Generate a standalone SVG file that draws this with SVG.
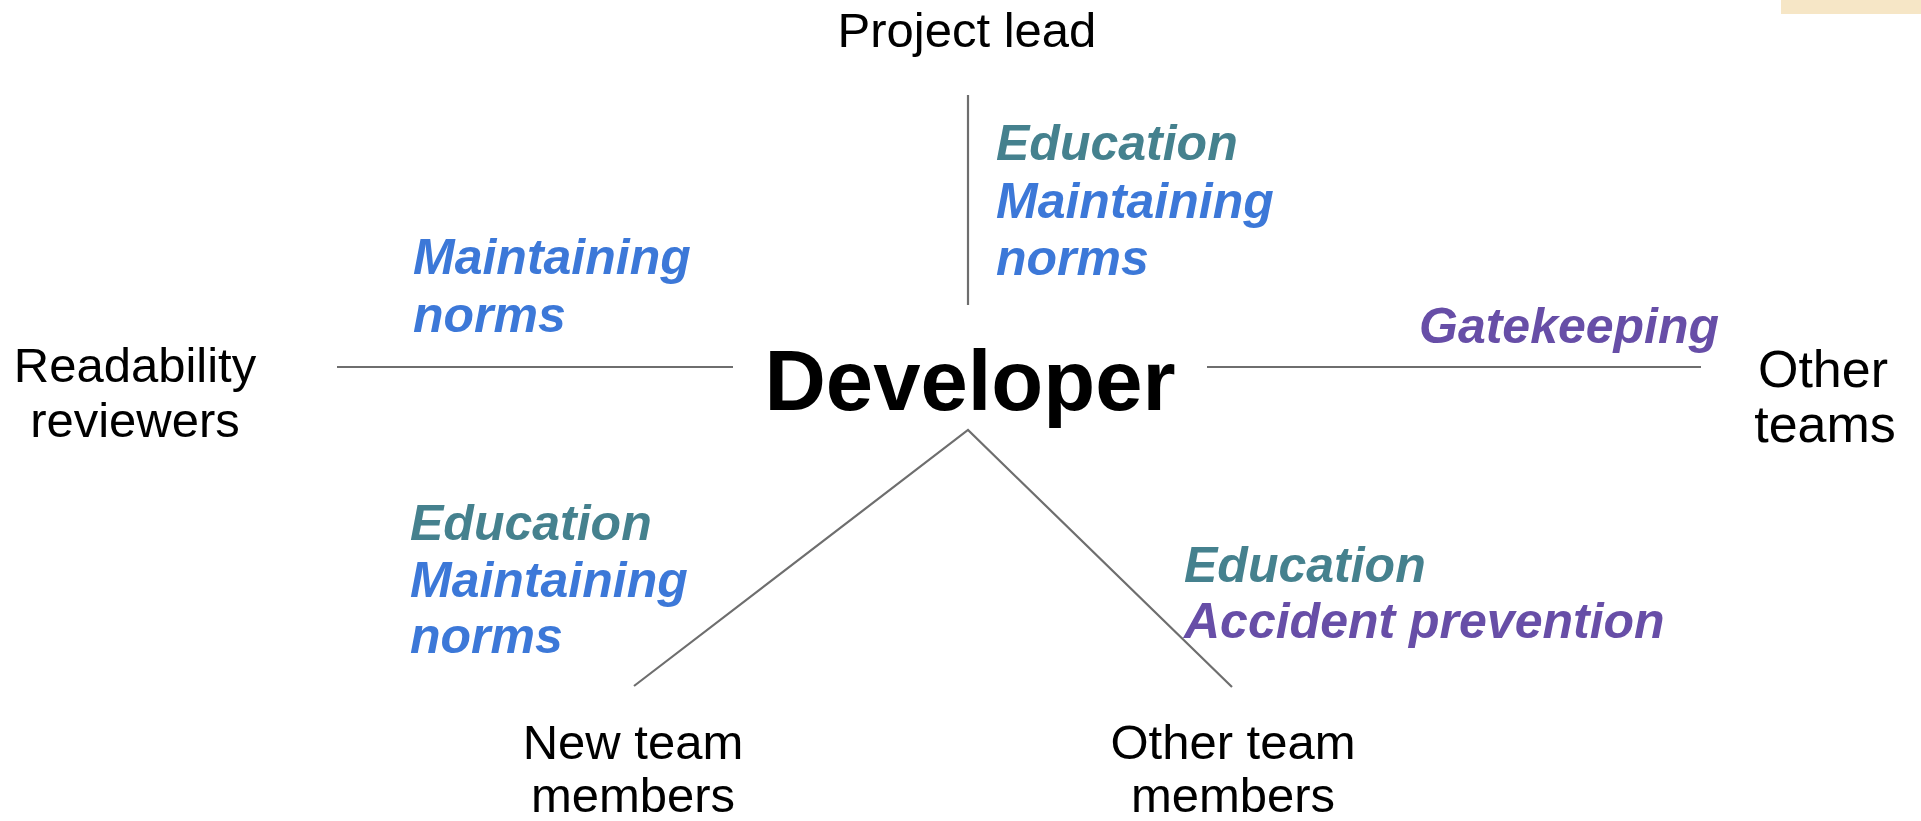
<svg xmlns="http://www.w3.org/2000/svg" width="1921" height="821" viewBox="0 0 1921 821">
<style>
  .node { font-family: "Liberation Sans", Arial, sans-serif; font-size: 49px; fill: #000; text-anchor: middle; }
  .center { font-family: "Liberation Sans", Arial, sans-serif; font-size: 85px; font-weight: bold; fill: #000; text-anchor: middle; }
  .lbl { font-family: "Liberation Sans", Arial, sans-serif; font-size: 50px; font-weight: bold; font-style: italic; }
  .edu { fill: #45818e; }
  .norm { fill: #3c78d8; }
  .gate { fill: #674ea7; }
  .conn { stroke: #6e6e6e; stroke-width: 2.2; fill: none; }
</style>
<rect x="0" y="0" width="1921" height="821" fill="#ffffff"/>
<rect x="1781" y="0" width="140" height="14" fill="#f6e6c6"/>

<g id="connectors">
  <line class="conn" x1="968" y1="95" x2="968" y2="305"/>
  <line class="conn" x1="337" y1="367" x2="733" y2="367"/>
  <line class="conn" x1="1207" y1="367" x2="1701" y2="367"/>
  <polyline class="conn" points="634,686 968,430 1232,687"/>
</g>

<g id="developer">
  <text class="center" x="970" y="410">Developer</text>
</g>

<g id="project-lead">
  <text class="node" x="967" y="47">Project lead</text>
</g>

<g id="readability-reviewers">
  <text class="node" x="135" y="382">Readability</text>
  <text class="node" x="135" y="437">reviewers</text>
</g>

<g id="other-teams">
  <text class="node" x="1823" y="387" style="font-size:52px">Other</text>
  <text class="node" x="1825" y="442" style="font-size:52px">teams</text>
</g>

<g id="new-team-members">
  <text class="node" x="633" y="759">New team</text>
  <text class="node" x="633" y="812">members</text>
</g>

<g id="other-team-members">
  <text class="node" x="1233" y="759">Other team</text>
  <text class="node" x="1233" y="812">members</text>
</g>

<g id="label-project-lead">
  <text class="lbl edu" x="996" y="160">Education</text>
  <text class="lbl norm" x="996" y="218">Maintaining</text>
  <text class="lbl norm" x="996" y="275">norms</text>
</g>

<g id="label-readability">
  <text class="lbl norm" x="413" y="274">Maintaining</text>
  <text class="lbl norm" x="413" y="332">norms</text>
</g>

<g id="label-other-teams">
  <text class="lbl gate" x="1419" y="343">Gatekeeping</text>
</g>

<g id="label-new-team">
  <text class="lbl edu" x="410" y="540">Education</text>
  <text class="lbl norm" x="410" y="597">Maintaining</text>
  <text class="lbl norm" x="410" y="653">norms</text>
</g>

<g id="label-other-team">
  <text class="lbl edu" x="1184" y="582">Education</text>
  <text class="lbl gate" x="1184" y="638">Accident prevention</text>
</g>
</svg>
